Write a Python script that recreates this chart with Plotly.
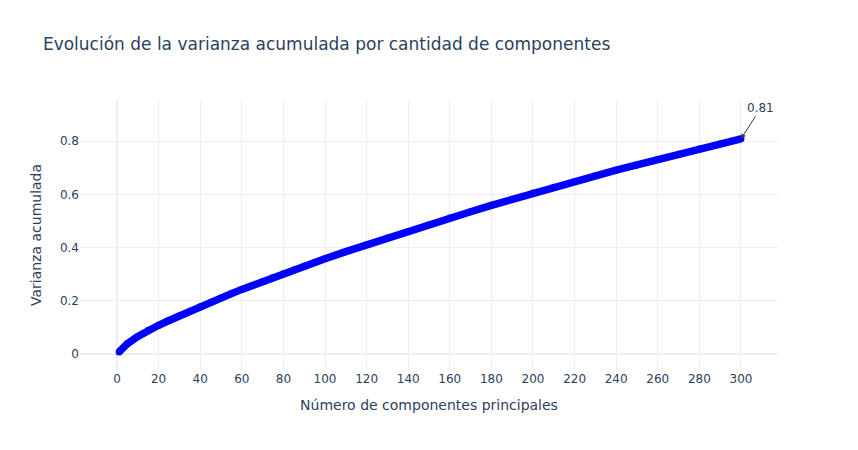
import plotly.graph_objects as go

componentes = [1, 5, 10, 15, 20, 25, 30, 35, 40, 45, 50, 55, 60, 65, 70, 75, 80, 85, 90, 95,
               100, 110, 120, 130, 140, 150, 160, 170, 180, 190, 200, 210, 220, 230, 240,
               250, 260, 270, 280, 290, 300]
varianza = [0.008, 0.039, 0.066, 0.089, 0.108, 0.126, 0.144, 0.161, 0.178, 0.195, 0.211,
            0.227, 0.243, 0.258, 0.273, 0.288, 0.302, 0.316, 0.330, 0.344,
            0.358, 0.385, 0.411, 0.436, 0.461, 0.486, 0.511, 0.535, 0.559, 0.582,
            0.605, 0.627, 0.649, 0.670, 0.691, 0.711, 0.731, 0.751, 0.771, 0.790, 0.809]
etiqueta_final = "0.81"

fig = go.Figure()
fig.add_trace(go.Scatter(
    x=componentes, y=varianza, mode="lines+markers",
    line=dict(color="blue", width=7.5),
    marker=dict(color="blue", size=7),
    showlegend=False,
))
fig.add_annotation(
    x=componentes[-1], y=varianza[-1], text=etiqueta_final,
    showarrow=True, arrowhead=2, arrowsize=1, arrowwidth=1, arrowcolor="#2a3f5f",
    ax=20, ay=-31, font=dict(size=12, color="#2a3f5f"),
)
fig.update_layout(
    template="plotly_white",
    width=858, height=450,
    font=dict(family="Verdana, 'DejaVu Sans', sans-serif"),
    title=dict(text="Evolución de la varianza acumulada por cantidad de componentes"),
    xaxis=dict(title=dict(text="Número de componentes principales"), dtick=20,
               range=[-17.8, 317.8]),
    yaxis=dict(title=dict(text="Varianza acumulada"), range=[-0.06, 0.955]),
    margin=dict(l=80, r=80, t=100, b=80),
)
fig.write_html("out.html")
